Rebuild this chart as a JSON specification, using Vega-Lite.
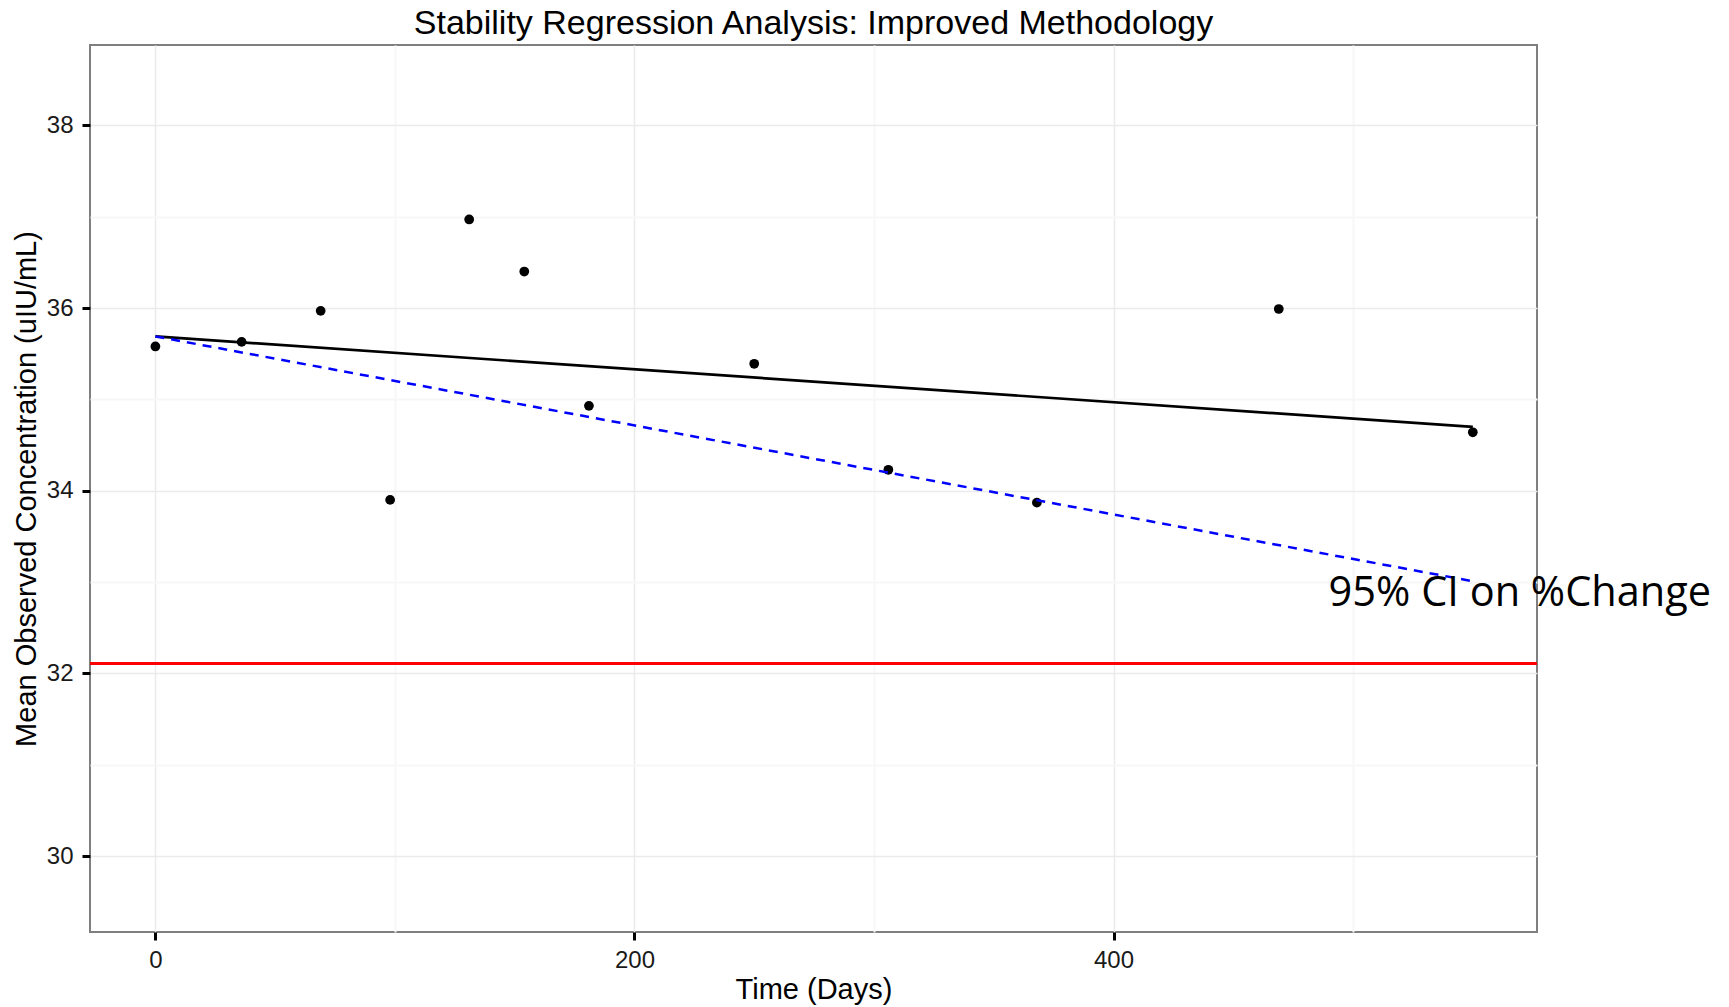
{
  "$schema": "https://vega.github.io/schema/vega-lite/v6.json",
  "autosize": {"type": "none"},
  "width": 1447,
  "height": 887,
  "padding": {"left": 90, "top": 45, "right": 192, "bottom": 75},
  "background": "white",
  "config": {
    "view": {"stroke": "#7f7f7f", "strokeWidth": 2},
    "font": "Liberation Sans",
    "axis": {
      "labelFont": "Liberation Sans",
      "titleFont": "Liberation Sans",
      "titleFontWeight": "normal",
      "labelColor": "#1a1a1a",
      "titleColor": "#000000"
    }
  },
  "title": {
    "text": "Stability Regression Analysis: Improved Methodology",
    "font": "Liberation Sans",
    "fontSize": 34,
    "fontWeight": "normal",
    "color": "#000000",
    "anchor": "middle",
    "frame": "group",
    "offset": 4
  },
  "datasets": {
    "pts": [
      {"day": 0, "conc": 35.58},
      {"day": 36, "conc": 35.63},
      {"day": 69, "conc": 35.97},
      {"day": 98, "conc": 33.9},
      {"day": 131, "conc": 36.97},
      {"day": 154, "conc": 36.4},
      {"day": 181, "conc": 34.93},
      {"day": 250, "conc": 35.39},
      {"day": 306, "conc": 34.23},
      {"day": 368, "conc": 33.87},
      {"day": 469, "conc": 35.99},
      {"day": 550, "conc": 34.64}
    ],
    "fit": [
      {"day": 0, "conc": 35.69, "series": "fit"},
      {"day": 550, "conc": 34.7, "series": "fit"}
    ],
    "ci": [
      {"day": 0, "conc": 35.69, "series": "ci"},
      {"day": 550, "conc": 33.01, "series": "ci"}
    ],
    "limit": [{"conc": 32.11}],
    "note": [{"day": 489.8, "conc": 32.74, "label": "95% CI on %Change"}]
  },
  "resolve": {"axis": {"x": "independent", "y": "independent"}},
  "layer": [
    {
      "data": {"name": "fit"},
      "mark": {"type": "line", "color": "#000000", "strokeWidth": 2.7},
      "encoding": {
        "x": {
          "field": "day", "type": "quantitative",
          "scale": {"domain": [-27.3, 576.8], "nice": false, "zero": false},
          "axis": {"orient": "top", "values": [100, 300, 500], "grid": true, "gridColor": "#f7f7f7", "gridWidth": 2, "labels": false, "ticks": false, "domain": false, "title": null}
        },
        "y": {
          "field": "conc", "type": "quantitative",
          "scale": {"domain": [29.17, 38.88], "nice": false, "zero": false},
          "axis": {"orient": "right", "values": [31, 33, 35, 37], "grid": true, "gridColor": "#f7f7f7", "gridWidth": 2, "labels": false, "ticks": false, "domain": false, "title": null}
        }
      }
    },
    {
      "data": {"name": "pts"},
      "mark": {"type": "point", "filled": true, "color": "#000000", "size": 95, "opacity": 1},
      "encoding": {
        "x": {
          "field": "day", "type": "quantitative",
          "axis": {
            "orient": "bottom",
            "title": "Time (Days)",
            "values": [0, 200, 400],
            "grid": true, "gridColor": "#ebebeb", "gridWidth": 1.5,
            "domain": false,
            "ticks": true, "tickColor": "#000000", "tickWidth": 3, "tickSize": 8,
            "labelFontSize": 24, "labelPadding": 8,
            "titleFontSize": 29, "titlePadding": 3
          }
        },
        "y": {
          "field": "conc", "type": "quantitative",
          "axis": {
            "orient": "left",
            "title": "Mean Observed Concentration (uIU/mL)",
            "values": [30, 32, 34, 36, 38],
            "grid": true, "gridColor": "#ebebeb", "gridWidth": 1.5,
            "domain": false,
            "ticks": true, "tickColor": "#000000", "tickWidth": 3, "tickSize": 8,
            "labelFontSize": 24, "labelPadding": 9,
            "titleFontSize": 29, "titlePadding": 5
          }
        }
      }
    },
    {
      "data": {"name": "ci"},
      "mark": {"type": "line", "color": "#0000ff", "strokeWidth": 2.5, "strokeDash": [9, 7]},
      "encoding": {
        "x": {"field": "day", "type": "quantitative", "axis": null},
        "y": {"field": "conc", "type": "quantitative", "axis": null}
      }
    },
    {
      "data": {"name": "limit"},
      "mark": {"type": "rule", "color": "#ff0000", "strokeWidth": 3},
      "encoding": {
        "y": {"field": "conc", "type": "quantitative", "axis": null}
      }
    },
    {
      "data": {"name": "note"},
      "mark": {"type": "text", "font": "Open Sans", "fontSize": 41.5, "align": "left", "baseline": "alphabetic", "color": "#000000"},
      "encoding": {
        "x": {"field": "day", "type": "quantitative", "axis": null},
        "y": {"field": "conc", "type": "quantitative", "axis": null},
        "text": {"field": "label"}
      }
    }
  ]
}
